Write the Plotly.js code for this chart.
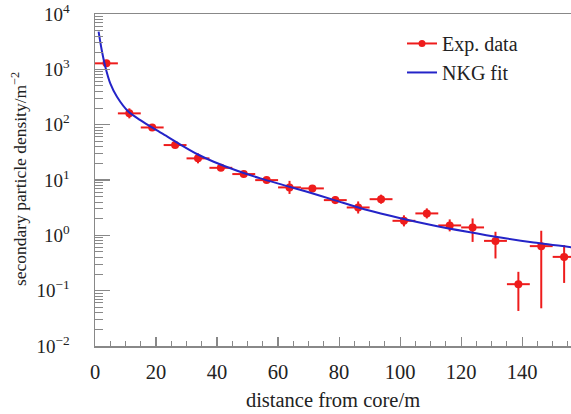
<!DOCTYPE html>
<html>
<head>
<meta charset="utf-8">
<script src="https://cdn.plot.ly/plotly-3.0.1.min.js"></script>
<style>html,body{margin:0;padding:0;background:#fff;}#chart{width:571px;height:414px;}</style>
</head>
<body>
<div id="chart"></div>
<script>
// Experimental data: bin centres (m), density (m^-2), error-bar ends
const distance = [3.75, 11.25, 18.75, 26.25, 33.75, 41.25, 48.75, 56.25, 63.75, 71.25, 78.75,
                  86.25, 93.75, 101.25, 108.75, 116.25, 123.75, 131.25, 138.75, 146.25, 153.75];
const density  = [1283, 160, 89, 42.8, 24.6, 16.6, 12.8, 9.95, 7.35, 7.05, 4.33,
                  3.19, 4.5, 1.83, 2.49, 1.51, 1.39, 0.794, 0.131, 0.638, 0.408];
const densityHigh = [1390, 197, 96.7, 46.5, 30.3, 18, 14.2, 11.3, 9.65, 8.0, 5.1,
                     4.1, 5.43, 2.3, 3.07, 1.94, 2.02, 1.16, 0.219, 1.21, 0.665];
const densityLow  = [1180, 130, 82, 39.4, 20, 15.3, 11.5, 8.8, 5.6, 6.2, 3.67,
                     2.48, 3.73, 1.45, 2.02, 1.18, 0.76, 0.382, 0.043, 0.048, 0.138];
const binHalfWidth = 3.75;

// NKG fit curve
const fitDistance = [1.18, 2.2, 3.38, 5.0, 7.2, 11.0, 14.85, 19.2, 23.6, 28, 33.4, 38.9, 46.6,
                     54.2, 61.8, 69.5, 78.2, 89.2, 100.1, 111, 122, 132.9, 143.8, 156.2];
const fitDensity  = [4786, 2234, 1114, 558, 320, 171, 121, 85.7, 61.7, 43.6, 29.5, 21.4, 14.7,
                     10.7, 8.09, 6.12, 4.37, 2.86, 2.04, 1.51, 1.16, 0.91, 0.74, 0.61];

// Axis tick labels
const yTickVals = [0.01, 0.1, 1, 10, 100, 1000, 10000];
const yTickText = ['10<sup>−2</sup>', '10<sup>−1</sup>', '10<sup>0</sup>', '10<sup>1</sup>',
                   '10<sup>2</sup>', '10<sup>3</sup>', '10<sup>4</sup>'];
const xTickVals = [0, 20, 40, 60, 80, 100, 120, 140];

const red = '#ee1c1c';
const blue = '#2424c8';
const errPlus = densityHigh.map((v, i) => v - density[i]);
const errMinus = densityLow.map((v, i) => density[i] - v);

const traces = [
  {
    x: distance, y: density, type: 'scatter', mode: 'markers', showlegend: false,
    marker: {color: red, size: 8},
    error_x: {type: 'constant', value: binHalfWidth, color: red, thickness: 2, width: 0},
    error_y: {type: 'data', symmetric: false, array: errPlus, arrayminus: errMinus,
              color: red, thickness: 2, width: 0}
  },
  {
    x: [null], y: [null], type: 'scatter', mode: 'lines+markers', name: 'Exp. data',
    line: {color: red, width: 2}, marker: {color: red, size: 7}
  },
  {
    x: fitDistance, y: fitDensity, type: 'scatter', mode: 'lines', name: 'NKG fit',
    line: {color: blue, width: 2, shape: 'spline', smoothing: 0.8}
  }
];

const font = {family: 'Liberation Serif, serif', color: '#222'};
const F = (s) => Object.assign({size: s}, font);

const layout = {
  width: 571, height: 414,
  margin: {l: 95, r: 0, t: 14, b: 68},
  paper_bgcolor: '#fff', plot_bgcolor: '#fff',
  font: F(20),
  showlegend: true,
  legend: {x: 0.645, y: 0.97, xanchor: 'left', yanchor: 'top', bgcolor: 'rgba(0,0,0,0)',
           font: F(20), tracegroupgap: 0},
  xaxis: {
    range: [0, 156], showgrid: false, zeroline: false,
    showline: true, linecolor: '#888', linewidth: 1.5, mirror: true,
    ticks: 'inside', ticklen: 9, tickwidth: 1.2, tickcolor: '#888',
    tickmode: 'array', tickvals: xTickVals,
    minor: {dtick: 5, tick0: 0, ticks: 'inside', ticklen: 5, tickcolor: '#888', tickwidth: 1},
    tickfont: F(20.5),
    ticklabelstandoff: 7,
    title: {text: 'distance from core/m', font: F(20.5), standoff: 10}
  },
  yaxis: {
    type: 'log', range: [-2, 4], showgrid: false, zeroline: false,
    showline: true, linecolor: '#888', linewidth: 1.5,
    ticks: 'inside', ticklen: 15, tickwidth: 1.2, tickcolor: '#888',
    tickmode: 'array', tickvals: yTickVals, ticktext: yTickText,
    minor: {dtick: 'D1', ticks: 'inside', ticklen: 8, tickcolor: '#888', tickwidth: 1},
    tickfont: F(19),
    ticklabelstandoff: 20,
    ticklabeloverflow: 'allow'
  },
  annotations: [{
    text: 'secondary particle density/m<sup>−2</sup>', textangle: -90,
    xref: 'paper', yref: 'paper', x: 0, y: 0.503, xanchor: 'center', yanchor: 'middle',
    xshift: -76, showarrow: false, font: F(17.5)
  }]
};

Plotly.newPlot('chart', traces, layout, {displayModeBar: false, staticPlot: true});
</script>
</body>
</html>
